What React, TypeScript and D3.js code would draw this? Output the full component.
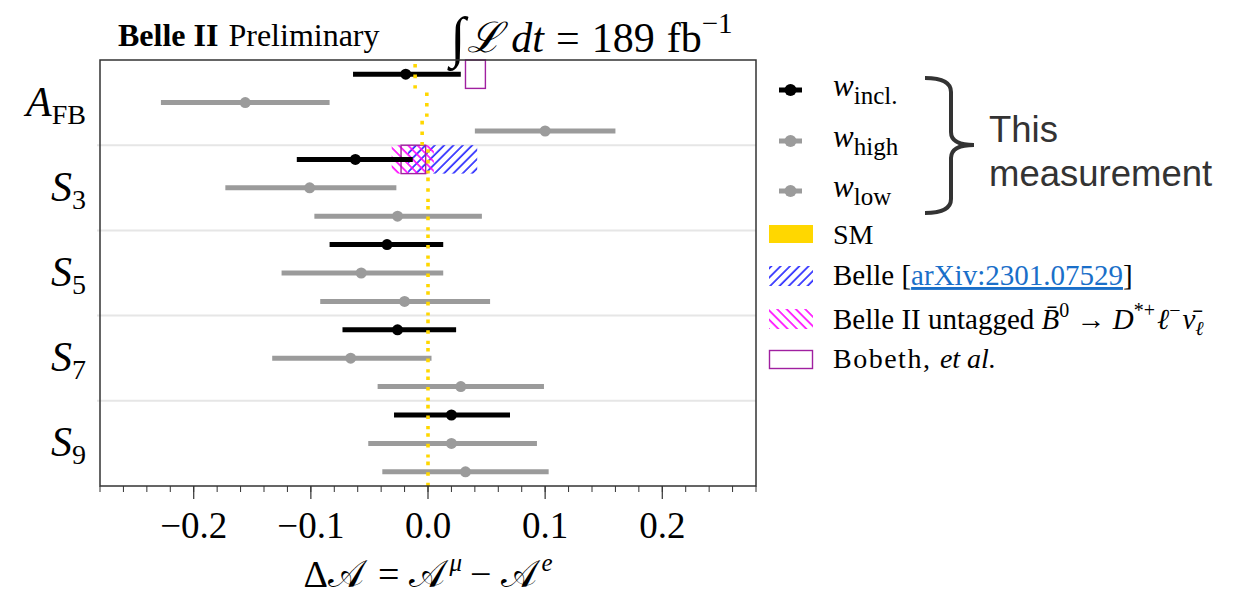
import React from "react";
import * as d3 from "d3";

// ---------- data ----------
const observableLabels = ["A", "S", "S", "S", "S"];
const observableSubs = ["FB", "3", "5", "7", "9"];
const weightBins = ["incl", "high", "low"];
// rows: for each observable: incl, high, low
const centralValues = [
  -0.019, -0.156, 0.1,
  -0.062, -0.101, -0.026,
  -0.035, -0.057, -0.02,
  -0.026, -0.066, 0.028,
  0.02, 0.02, 0.032,
];
const lowerEdges = [
  -0.064, -0.228, 0.04,
  -0.112, -0.173, -0.097,
  -0.084, -0.125, -0.092,
  -0.073, -0.133, -0.043,
  -0.029, -0.051, -0.039,
];
const upperEdges = [
  0.028, -0.084, 0.16,
  -0.013, -0.027, 0.046,
  0.013, 0.013, 0.053,
  0.024, 0.003, 0.099,
  0.07, 0.093, 0.103,
];
const smValues = [
  -0.011, -0.001, -0.005,
  0, 0, 0,
  0, 0, 0,
  0, 0, 0,
  0, 0, 0,
];
const belleRows = [3];
const belleLo = [-0.017];
const belleHi = [0.042];
const belle2Rows = [3];
const belle2Lo = [-0.031];
const belle2Hi = [0.005];
const bobethRows = [0, 3];
const bobethLo = [0.032, -0.023];
const bobethHi = [0.049, -0.002];
const xTickValues = [-0.2, -0.1, 0.0, 0.1, 0.2];
const xTickLabels = ["\u22120.2", "\u22120.1", "0.0", "0.1", "0.2"];

// ---------- layout ----------
const W = 1249;
const H = 597;
const plotLeft = 100;
const plotRight = 756;
const plotTop = 60;
const plotBottom = 486;
const SERIF = "'Liberation Serif', 'DejaVu Serif', serif";
const SANS = "'Liberation Sans', Arial, sans-serif";
const GRAY = "#9b9b9b";
const GOLD = "#FFD700";
const BLUE = "#0000ff";
const MAGENTA = "#ff00ff";
const PURPLE = "#a020a0";

export default function App() {
  const nRows = centralValues.length;
  const x = d3.scaleLinear().domain([-0.28, 0.28]).range([plotLeft, plotRight]);
  const y = d3
    .scaleBand<number>()
    .domain(d3.range(nRows))
    .range([plotTop, plotBottom])
    .paddingInner(0)
    .paddingOuter(0);
  const bw = y.bandwidth();
  const cy = (i: number) => (y(i) as number) + bw / 2;
  const minorTicks = d3.range(-14, 15).map((k) => k * 0.02);
  const colorFor = (i: number) => (i % 3 === 0 ? "#000" : GRAY);

  return (
    <svg
      width={W}
      height={H}
      style={{ position: "absolute", left: 0, top: 0, background: "#fff" }}
    >
      <defs>
        <pattern
          id="blueHatch"
          patternUnits="userSpaceOnUse"
          width={6.6}
          height={6.6}
          patternTransform="rotate(45)"
        >
          <line x1={1} y1={0} x2={1} y2={6.6} stroke={BLUE} strokeWidth={1.4} />
        </pattern>
        <pattern
          id="magHatch"
          patternUnits="userSpaceOnUse"
          width={6.6}
          height={6.6}
          patternTransform="rotate(-45)"
        >
          <line x1={1} y1={0} x2={1} y2={6.6} stroke={MAGENTA} strokeWidth={1.6} />
        </pattern>
      </defs>

      {/* title */}
      <text x={118} y={46} fontFamily={SERIF} fontSize={32} fill="#000">
        <tspan fontWeight="bold">Belle II</tspan>
        <tspan dx={10}>Preliminary</tspan>
      </text>
      <text x={450} y={52} fontFamily={SERIF} fontSize={42} fill="#000">
        <tspan fontSize={56} dy={4}>∫</tspan>
        <tspan dy={-4} dx={2} fontStyle="italic">ℒ</tspan>
        <tspan dx={9} fontStyle="italic">dt</tspan>
        <tspan dx={12}>=</tspan>
        <tspan dx={12}>189</tspan>
        <tspan dx={12}>fb</tspan>
        <tspan fontSize={29} dy={-19}>−1</tspan>
      </text>

      {/* group separators */}
      {[3, 6, 9, 12].map((r) => (
        <line
          key={r}
          x1={plotLeft - 3}
          x2={plotRight}
          y1={y(r) as number}
          y2={y(r) as number}
          stroke="#e6e6e6"
          strokeWidth={2}
        />
      ))}

      {/* Belle hatch */}
      {belleRows.map((r, k) => (
        <rect
          key={"b" + k}
          x={x(belleLo[k])}
          y={y(r) as number}
          width={x(belleHi[k]) - x(belleLo[k])}
          height={bw}
          fill="url(#blueHatch)"
        />
      ))}
      {/* Belle II untagged hatch */}
      {belle2Rows.map((r, k) => (
        <rect
          key={"b2" + k}
          x={x(belle2Lo[k])}
          y={y(r) as number}
          width={x(belle2Hi[k]) - x(belle2Lo[k])}
          height={bw}
          fill="url(#magHatch)"
        />
      ))}
      {/* Bobeth boxes */}
      {bobethRows.map((r, k) => (
        <rect
          key={"bo" + k}
          x={x(bobethLo[k])}
          y={y(r) as number}
          width={x(bobethHi[k]) - x(bobethLo[k])}
          height={bw}
          fill="none"
          stroke={PURPLE}
          strokeWidth={1.4}
        />
      ))}

      {/* error bars */}
      {centralValues.map((v, i) => (
        <g key={"e" + i}>
          <line
            x1={x(lowerEdges[i])}
            x2={x(upperEdges[i])}
            y1={cy(i)}
            y2={cy(i)}
            stroke={colorFor(i)}
            strokeWidth={5}
          />
          <circle cx={x(v)} cy={cy(i)} r={5.5} fill={colorFor(i)} />
        </g>
      ))}

      {/* SM dotted line */}
      {smValues.map((s, i) => (
        <line
          key={"sm" + i}
          x1={x(s)}
          x2={x(s)}
          y1={(y(i) as number) + 4}
          y2={(y(i) as number) + bw + (i === nRows - 1 ? 6 : 0)}
          stroke={GOLD}
          strokeWidth={3.6}
          strokeDasharray="3.6,7"
        />
      ))}

      {/* frame */}
      <rect
        x={plotLeft}
        y={plotTop}
        width={plotRight - plotLeft}
        height={plotBottom - plotTop}
        fill="none"
        stroke="#333"
        strokeWidth={1.5}
      />

      {/* x ticks */}
      {minorTicks.map((t, k) => (
        <line
          key={"mt" + k}
          x1={x(t)}
          x2={x(t)}
          y1={plotBottom}
          y2={plotBottom + 6}
          stroke="#333"
          strokeWidth={1}
        />
      ))}
      {xTickValues.map((t, k) => (
        <g key={"t" + k}>
          <line
            x1={x(t)}
            x2={x(t)}
            y1={plotBottom}
            y2={plotBottom + 13}
            stroke="#333"
            strokeWidth={1.2}
          />
          <text
            x={x(t)}
            y={538}
            textAnchor="middle"
            fontFamily={SERIF}
            fontSize={37}
            fill="#000"
          >
            {xTickLabels[k]}
          </text>
        </g>
      ))}
      <text
        x={x(0)}
        y={587}
        textAnchor="middle"
        fontFamily={SERIF}
        fontSize={38}
        fill="#000"
      >
        <tspan>Δ</tspan>
        <tspan>𝒜</tspan>
        <tspan dx={14}>=</tspan>
        <tspan dx={10}>𝒜</tspan>
        <tspan fontSize={25} dy={-16} dx={4} fontStyle="italic">μ</tspan>
        <tspan dy={16} dx={8}>−</tspan>
        <tspan dx={10}>𝒜</tspan>
        <tspan fontSize={25} dy={-16} dx={4} fontStyle="italic">e</tspan>
      </text>

      {/* y labels */}
      {observableLabels.map((lab, g) => (
        <text
          key={"yl" + g}
          x={86}
          y={cy(g * 3 + 1) + 13}
          textAnchor="end"
          fontFamily={SERIF}
          fontSize={42}
          fill="#000"
        >
          <tspan fontStyle="italic">{lab}</tspan>
          <tspan fontSize={28} dy={8}>
            {observableSubs[g]}
          </tspan>
        </text>
      ))}

      {/* legend: this measurement */}
      {weightBins.map((w, k) => {
        const ly = [90, 141, 191][k];
        const col = k === 0 ? "#000" : GRAY;
        return (
          <g key={"lg" + k}>
            <line x1={779} x2={802} y1={ly} y2={ly} stroke={col} strokeWidth={5} />
            <circle cx={790.5} cy={ly} r={6} fill={col} />
            <text x={833} y={ly + 6} fontFamily={SERIF} fontSize={31} fill="#000">
              <tspan fontStyle="italic">w</tspan>
              <tspan fontSize={25} dy={8}>
                {w === "incl" ? "incl." : w}
              </tspan>
            </text>
          </g>
        );
      })}
      <path
        d="M925,78 Q951,78 951,92 L951,132 Q951,145 974,145 Q951,145 951,158 L951,199 Q951,213 925,213"
        fill="none"
        stroke="#333"
        strokeWidth={4}
      />
      <text x={989} y={142} fontFamily={SANS} fontSize={36.5} fill="#333">
        This
      </text>
      <text x={989} y={186} fontFamily={SANS} fontSize={36.5} fill="#333">
        measurement
      </text>

      {/* legend: other */}
      <rect x={769} y={225} width={44} height={18} fill={GOLD} />
      <text x={833} y={244} fontFamily={SERIF} fontSize={28} fill="#000">
        SM
      </text>
      <rect x={769} y={266} width={44} height={20} fill="url(#blueHatch)" />
      <text x={833} y={285} fontFamily={SERIF} fontSize={29} fill="#000">
        <tspan>Belle [</tspan>
        <tspan fill="#1a6fc9" textDecoration="underline">
          arXiv:2301.07529
        </tspan>
        <tspan>]</tspan>
      </text>
      <rect x={769} y={309} width={44} height={20} fill="url(#magHatch)" />
      <text x={833} y={329} fontFamily={SERIF} fontSize={29} fill="#000">
        <tspan>Belle II untagged </tspan>
        <tspan fontStyle="italic">B̄</tspan>
        <tspan fontSize={20} dy={-12}>0</tspan>
        <tspan dy={12}> → </tspan>
        <tspan fontStyle="italic">D</tspan>
        <tspan fontSize={20} dy={-12}>*+</tspan>
        <tspan dy={12} dx={2} fontStyle="italic">ℓ</tspan>
        <tspan fontSize={20} dy={-12}>−</tspan>
        <tspan dy={12} dx={2} fontStyle="italic">ν̄</tspan>
        <tspan fontSize={20} dy={6} fontStyle="italic">ℓ</tspan>
      </text>
      <rect
        x={769.5}
        y={350.5}
        width={43}
        height={18}
        fill="none"
        stroke={PURPLE}
        strokeWidth={1.4}
      />
      <text x={833} y={368} fontFamily={SERIF} fontSize={28} fill="#000">
        <tspan letterSpacing={1.5}>Bobeth, </tspan>
        <tspan fontStyle="italic">et al.</tspan>
      </text>
    </svg>
  );
}
